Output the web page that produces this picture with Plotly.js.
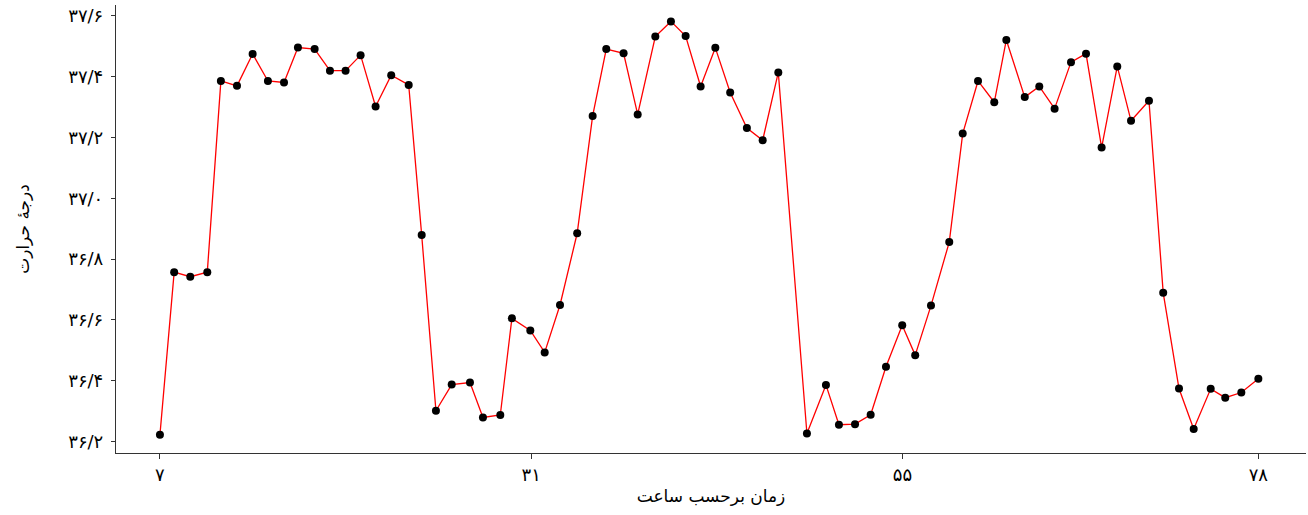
<!DOCTYPE html>
<html>
<head>
<meta charset="utf-8">
<script src="https://cdn.plot.ly/plotly-3.0.1.min.js"></script>
<style>html,body{margin:0;padding:0;background:#fff;}#chart{width:1308px;height:515px;}</style>
</head>
<body>
<div id="chart"></div>
<script>
// Time in hours
const hours = [
  7.0, 7.92, 8.96, 10.06, 10.94, 11.98, 12.99, 13.98, 15.02, 15.92,
  17.0, 17.99, 19.0, 19.97, 20.94, 21.95, 23.08, 23.92, 24.84, 25.86,
  27.04, 27.88, 29.0, 29.75, 30.94, 31.87, 32.86, 33.97, 34.97, 35.85,
  36.97, 37.88, 39.02, 40.03, 40.98, 41.95, 42.9, 43.86, 44.94, 45.96,
  46.97, 48.82, 50.05, 50.89, 51.93, 52.94, 53.93, 54.98, 55.82, 56.84,
  58.02, 58.89, 59.88, 60.93, 61.71, 62.9, 63.84, 64.83, 65.89, 66.86,
  67.87, 68.88, 69.77, 70.93, 71.85, 72.87, 73.82, 74.92, 75.86, 76.9, 78.0
];
// Temperature
const temperature = [
  36.222, 36.757, 36.742, 36.757, 37.386, 37.370, 37.475, 37.386, 37.381, 37.496,
  37.491, 37.420, 37.420, 37.471, 37.302, 37.405, 37.373, 36.879, 36.301, 36.387,
  36.394, 36.279, 36.287, 36.605, 36.565, 36.493, 36.649, 36.885, 37.271, 37.491,
  37.477, 37.276, 37.532, 37.582, 37.534, 37.368, 37.495, 37.348, 37.231, 37.191,
  37.414, 36.226, 36.386, 36.255, 36.257, 36.288, 36.446, 36.582, 36.484, 36.647,
  36.856, 37.213, 37.386, 37.316, 37.521, 37.333, 37.368, 37.295, 37.448, 37.476,
  37.167, 37.434, 37.255, 37.321, 36.689, 36.374, 36.241, 36.373, 36.344, 36.361, 36.406
];
const xTickVals = [7, 31, 55, 78];
const xTickText = ['۷', '۳۱', '۵۵', '۷۸'];
const yTickVals = [36.2, 36.4, 36.6, 36.8, 37.0, 37.2, 37.4, 37.6];
const yTickText = ['۳۶/۲', '۳۶/۴', '۳۶/۶', '۳۶/۸', '۳۷/۰', '۳۷/۲', '۳۷/۴', '۳۷/۶'];
const xTitle = 'زمان برحسب ساعت';
const yTitle = 'درجهٔ حرارت';

const font = 'DejaVu Sans, Noto Sans, sans-serif';

const traces = [{
  x: hours, y: temperature, type: 'scatter', mode: 'lines+markers',
  line: {color: '#ff0000', width: 1.3},
  marker: {color: '#000000', size: 8},
  hoverinfo: 'x+y', showlegend: false
}];

const layout = {
  width: 1308, height: 515,
  margin: {l: 116, r: 2, t: 5, b: 62},
  paper_bgcolor: '#ffffff', plot_bgcolor: '#ffffff',
  font: {family: font, color: '#000000', size: 16},
  showlegend: false,
  xaxis: {
    range: [4.16, 81.08], tickmode: 'array', tickvals: xTickVals, ticktext: xTickText,
    showgrid: false, zeroline: false, showline: true, linecolor: '#333333', linewidth: 1.2,
    ticks: 'outside', ticklen: 5, tickcolor: '#333333', tickwidth: 1,
    tickfont: {family: font, size: 18, color: '#000000'},
    title: {text: xTitle, font: {family: font, size: 17, color: '#000000'}, standoff: 6}
  },
  yaxis: {
    range: [36.162, 37.636], tickmode: 'array', tickvals: yTickVals, ticktext: yTickText,
    showgrid: false, zeroline: false, showline: true, linecolor: '#333333', linewidth: 1.2,
    ticks: 'outside', ticklen: 4, tickcolor: '#333333', tickwidth: 1,
    ticklabelstandoff: 4,
    tickfont: {family: font, size: 18, color: '#000000'},
    title: {text: yTitle, font: {family: font, size: 17, color: '#000000'}, standoff: 34}
  }
};

Plotly.newPlot('chart', traces, layout, {displayModeBar: false, responsive: false});
</script>
</body>
</html>
